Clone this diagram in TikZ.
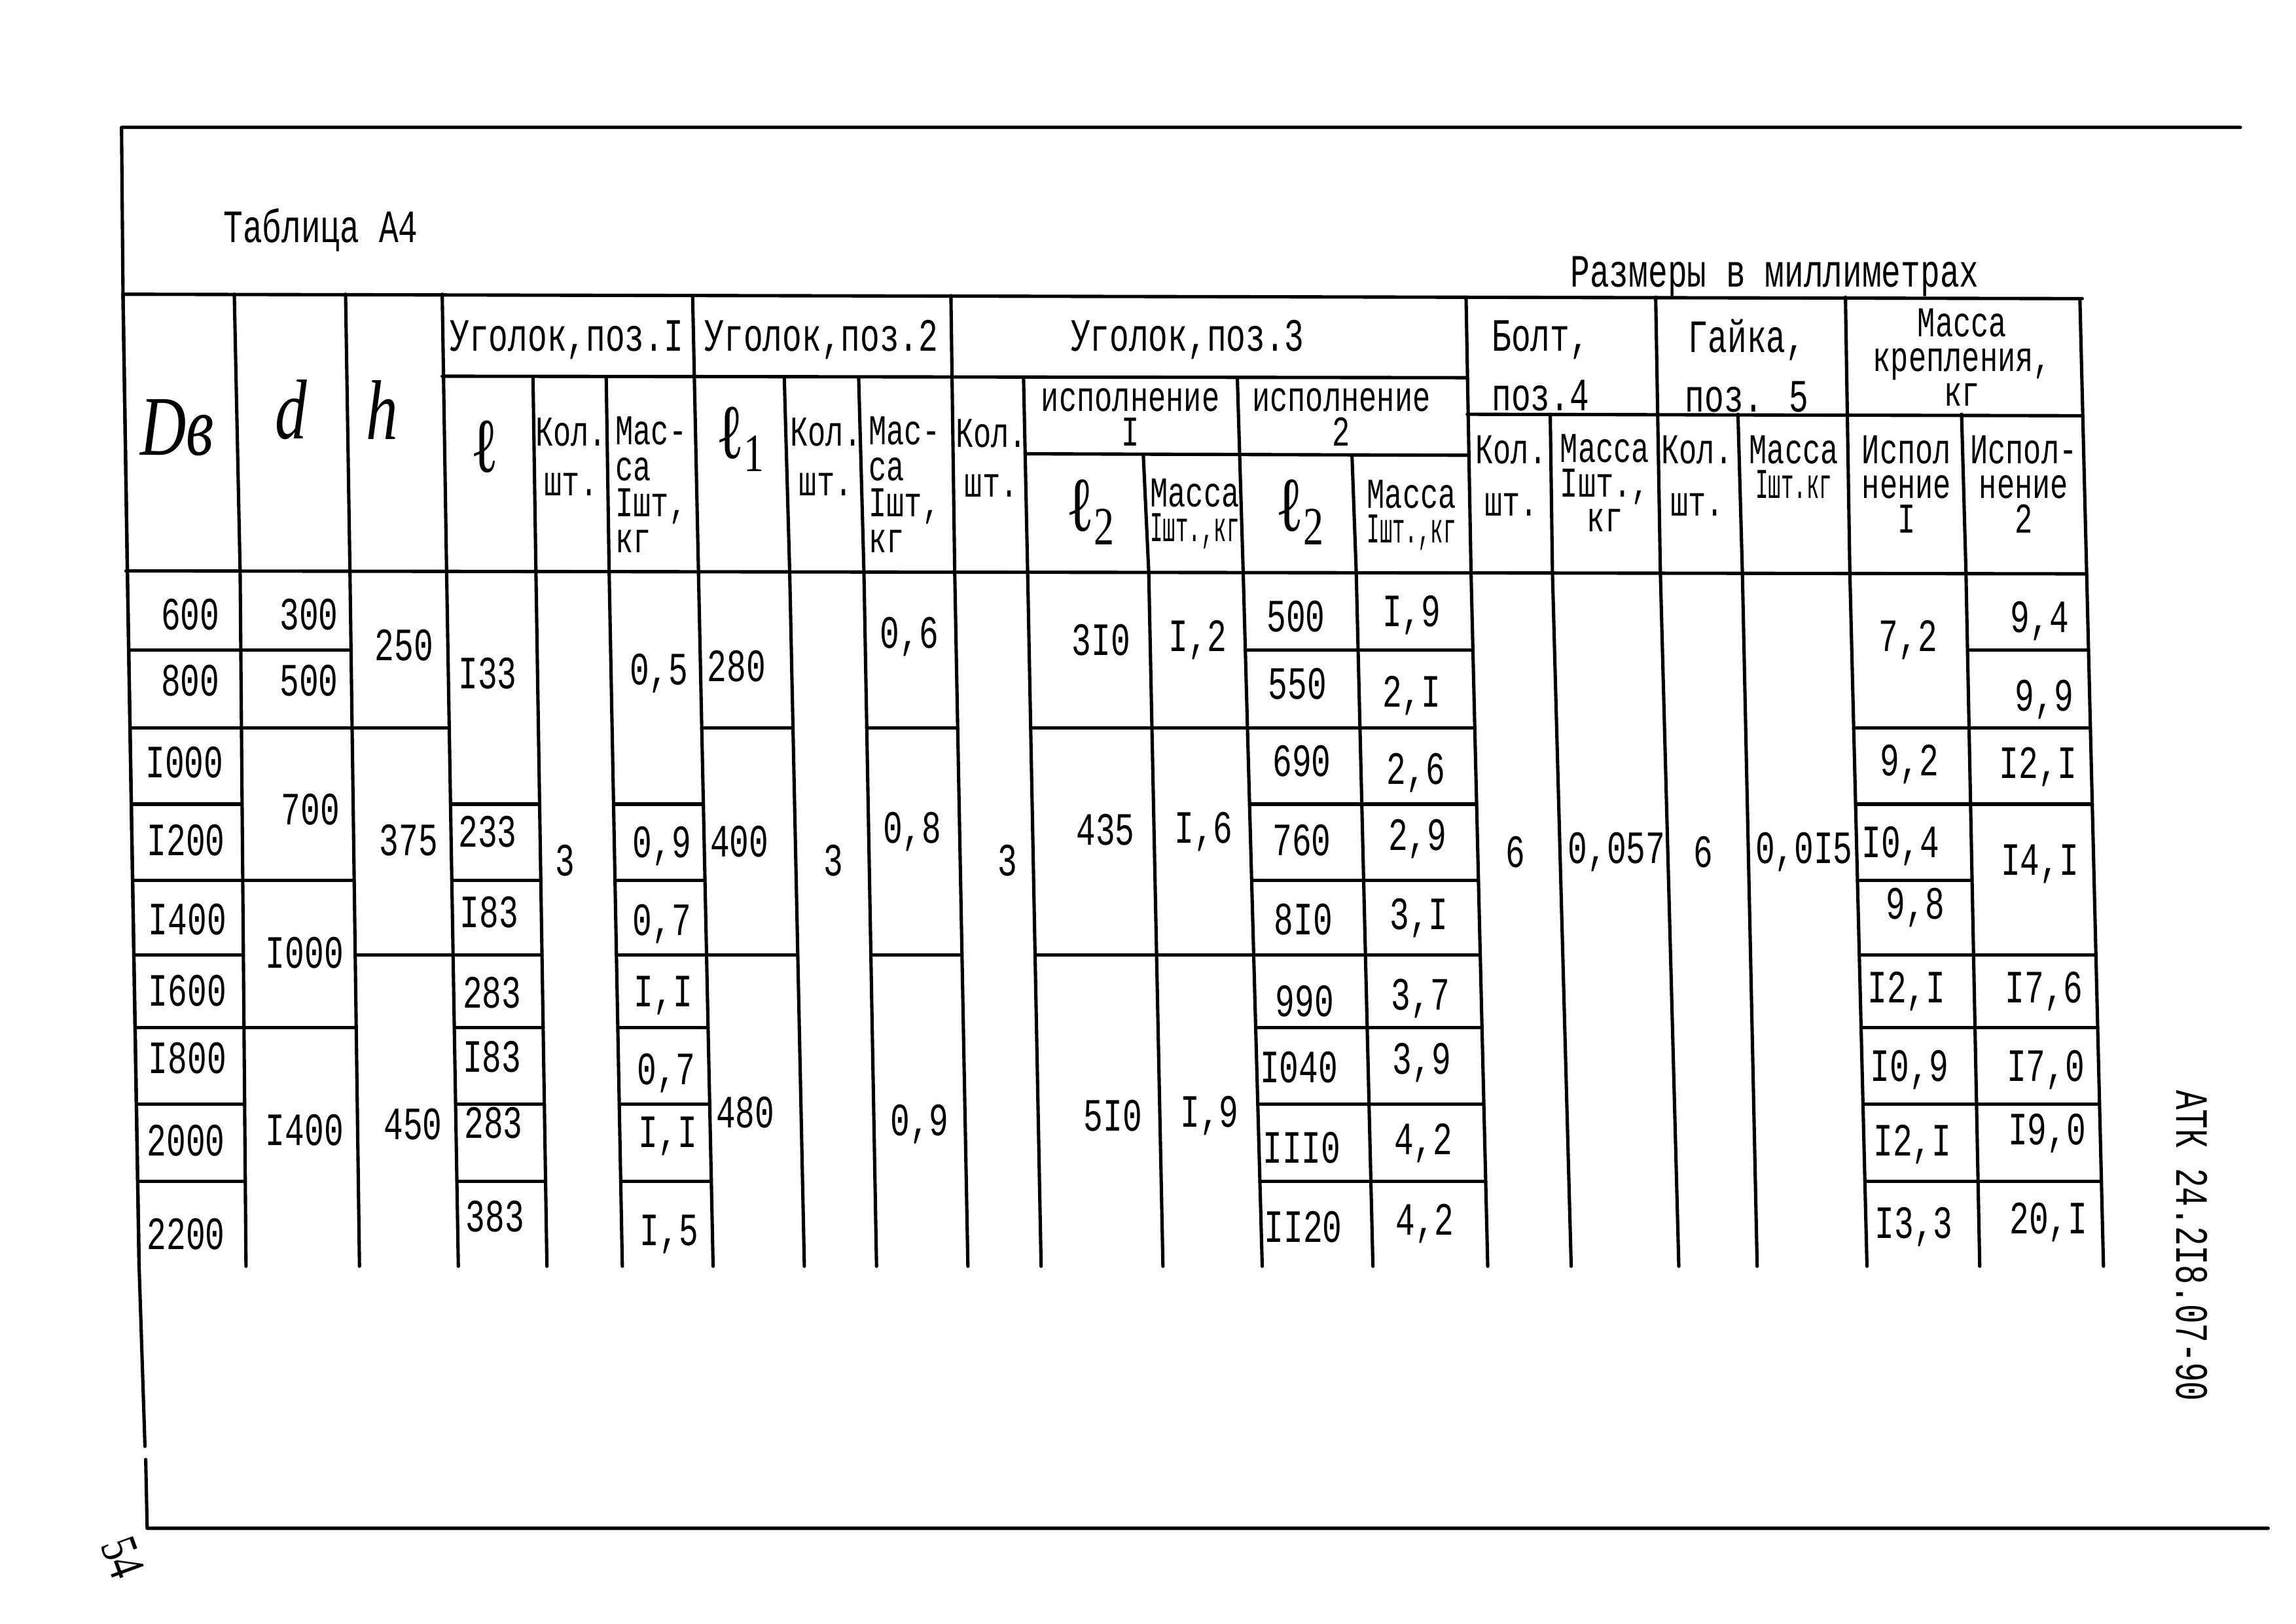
\documentclass[tikz,border=0pt]{standalone}
\usepackage{fontspec}
\setmainfont{Liberation Mono}[FakeStretch=0.7]
\newfontfamily\tightfont{Liberation Mono}[FakeStretch=0.5]
\newfontfamily\handfont{Liberation Serif}[FakeStretch=0.75]
\usetikzlibrary{calc}

\tikzset{
  ruling/.style={line width=1.3pt, line cap=round, line join=round},
  cell/.style={font=\fontsize{18}{12}\selectfont, inner sep=0pt, align=center},
  multi/.style={cell, font=\fontsize{16.5}{13.5}\selectfont},
  sym/.style={font=\handfont\itshape\fontsize{33}{33}\selectfont, inner sep=0pt},
  ell/.style={font=\handfont\fontsize{30}{30}\selectfont, inner sep=0pt},
}

\begin{document}
\begin{tikzpicture}[x=0.02cm, y=-0.02cm]
		\useasboundingbox (0,0) rectangle (1568,1109);

		% page frame
		\draw[ruling] (1530,87) -- (83,87) -- (84,201) -- (87,391) -- (95,865) -- (99,988);
		\draw[ruling] (99.5,997) -- (100.5,1044) -- (1549,1044);

		% header rules
		\draw[ruling]
			(84,201) -- (1422,204)
			(302,257) -- (1002,258)
			(700,310) -- (1002,311)
			(1002,283) -- (1422,284)
			(86,390) -- (1425,392);

		% column rules: name / top x / top y / x at header bottom / x at foot
		\foreach \n/\xa/\ya/\xb/\xc in {a/84/201/87/95, b/160/201/164/168, c/236/201/239/245.5,
				d/302/201/305/313, e/364/258/366/373.5, f/414/258/416/425, g/473/202/477/487,
				h/535.6/258/539.3/549.3, i/586.4/258/590/598.6, j/649.4/202/652/661,
				k/699/258/701.8/711, l/780.8/311/784.5/794.2, m/845/258/849/862,
				n/923.3/311/926.2/937.6, o/1001.2/203/1004.6/1016, p/1058.7/283/1060.2/1073,
				q/1130.7/203/1133.9/1146.5, r/1186.9/283/1189.9/1200, s/1260.3/203/1263.3/1275,
				t/1339.6/283/1342.6/1352, u/1420.4/204/1425/1436.5} {
			\coordinate (v\n-t) at (\xb,391);
			\coordinate (v\n-b) at (\xc,865);
			\draw[ruling] (\xa,\ya) -- (v\n-t) -- (v\n-b);
		}

		% row rules inside the cells
		\foreach \cl/\cr/\rows in {a/b/{1,2,3,4,5,6,7,8}, b/c/{1,2,4,6}, c/d/{2,5},
				d/e/{3,4,5,6,7,8}, f/g/{3,4,5,6,7,8}, g/h/{2,5}, i/j/{2,5}, k/m/{2,5},
				m/o/{1,2,3,4,5,6,7,8}, s/t/{2,3,4,5,6,7,8}, t/u/{1,2,3,5,6,7,8}} {
			\foreach \k in \rows {
				\pgfmathsetmacro\f{{0,.112,.224,.334,.444,.551,.656,.766,.878}[\k]}
				\draw[ruling] ($(v\cl-t)!\f!(v\cl-b)$) -- ($(v\cr-t)!\f!(v\cr-b)$);
			}
		}

		% titles
		\node[cell] (title) at (219,157) {Таблица А4};
		\node[cell] (units) at (1212,189) {Размеры в миллиметрах};
		\node[cell, rotate=-90] (code) at (1497,851) {АТК 24.2I8.07-90};
		\node[font=\handfont\fontsize{20}{20}\selectfont, inner sep=0pt, rotate=-70] (page) at (84,1064) {54};

		% header
		\node[sym] (hdb) at (121,292) {Dв};
		\node[sym] (hd) at (199,280) {d};
		\node[sym] (hh) at (261,280) {h};
		\node[cell] (hua) at (387,232) {Уголок,поз.I};
		\node[cell] (hub) at (561,232) {Уголок,поз.2};
		\node[cell] (huc) at (811,232) {Уголок,поз.3};
		\node[ell] (hla) at (331,305) {ℓ};
		\node[ell] (hlb) at (506,300) {ℓ\textsubscript{1}};
		\node[ell] (hlc) at (745,350) {ℓ\textsubscript{2}};
		\node[ell] (hld) at (888,350) {ℓ\textsubscript{2}};
		\node[multi] (hka) at (390,312) {Кол.\\[6pt]шт.};
		\node[multi, align=left, anchor=west, font=\fontsize{16.5}{14}\selectfont] (hma) at (420,331) {Мас-\\са\\Iшт,\\кг};
		\node[multi] (hkb) at (564,312) {Кол.\\[6pt]шт.};
		\node[multi, align=left, anchor=west, font=\fontsize{16.5}{14}\selectfont] (hmb) at (593,331) {Мас-\\са\\Iшт,\\кг};
		\node[multi] (hkc) at (677,313) {Кол.\\[6pt]шт.};
		\node[multi] (hia) at (772,285) {исполнение\\I};
		\node[multi] (hib) at (916,285) {исполнение\\2};
		\node[multi] (hmc) at (816,351) {Масса\\{\tightfont Iшт.,кг}};
		\node[multi] (hmd) at (964,352) {Масса\\{\tightfont Iшт.,кг}};
		\node[cell] (hbolt) at (1052,250) {Болт,\\[7pt]поз.4};
		\node[cell] (hnut) at (1193,250) {Гайка,\\[7pt]поз. 5};
		\node[multi] (hmass) at (1340,244) {Масса\\крепления,\\кг};
		\node[multi] (hkbolt) at (1032,325) {Кол.\\[7pt]шт.};
		\node[multi] (hmbolt) at (1096,330) {Масса\\Iшт.,\\кг};
		\node[multi] (hknut) at (1159,325) {Кол.\\[7pt]шт.};
		\node[multi] (hmnut) at (1225,319) {Масса\\{\tightfont Iшт.кг}};
		\node[multi] (hia2) at (1302,331) {Испол\\нение\\I};
		\node[multi] (hib2) at (1382,331) {Испол-\\нение\\2};

		% body
		\foreach \x/\y/\t [count=\i] in {130/420/600, 130/465/800, 126/521/I000, 127/574/I200,
				128/628/I400, 128/677/I600, 128/723/I800, 127/779/2000, 127/843/2200}
			\node[cell] (db\i) at (\x,\y) {\t};
		\foreach \x/\y/\t [count=\i] in {211/420/300, 211/465/500, 212/553/700, 208/651/I000, 208/772/I400}
			\node[cell] (dd\i) at (\x,\y) {\t};
		\foreach \x/\y/\t [count=\i] in {276/441/250, 279/574/375, 282/768/450}
			\node[cell] (hh\i) at (\x,\y) {\t};
		\foreach \x/\y/\t [count=\i] in {333/460/I33, 333/568/233, 334/623/I83, 336/678/283,
				336/722/I83, 337/767/283, 338/831/383}
			\node[cell] (la\i) at (\x,\y) {\t};
		\foreach \x/\y/\t [count=\i] in {450/460/{0,5}, 452/578/{0,9}, 452/631/{0,7}, 453/680/{I,I},
				455/733/{0,7}, 456/776/{I,I}, 457/843/{I,5}}
			\node[cell] (ma\i) at (\x,\y) {\t};
		\foreach \x/\y/\t [count=\i] in {503/455/280, 505/575/400, 509/760/480}
			\node[cell] (lb\i) at (\x,\y) {\t};
		\foreach \x/\y/\t [count=\i] in {621/435/{0,6}, 623/568/{0,8}, 628/768/{0,9}}
			\node[cell] (mb\i) at (\x,\y) {\t};
		\foreach \x/\y/\t [count=\i] in {752/437/3I0, 755/567/435, 760/762/5I0}
			\node[cell] (lc\i) at (\x,\y) {\t};
		\foreach \x/\y/\t [count=\i] in {818/437/{I,2}, 822/568/{I,6}, 826/762/{I,9}}
			\node[cell] (mc\i) at (\x,\y) {\t};
		\foreach \x/\y/\t [count=\i] in {885/421/500, 886/467/550, 889/520/690, 889/574/760,
				890/628/8I0, 891/684/990, 887/729/I040, 889/784/III0, 890/838/II20}
			\node[cell] (ld\i) at (\x,\y) {\t};
		\foreach \x/\y/\t [count=\i] in {964/420/{I,9}, 964/475/{2,I}, 967/528/{2,6}, 968/573/{2,9},
				969/627/{3,I}, 970/682/{3,7}, 971/726/{3,9}, 972/781/{4,2}, 973/836/{4,2}}
			\node[cell] (md\i) at (\x,\y) {\t};
		\foreach \x/\y/\t [count=\i] in {1303/437/{7,2}, 1304/522/{9,2}, 1298/578/{I0,4}, 1308/620/{9,8},
				1302/677/{I2,I}, 1304/731/{I0,9}, 1306/782/{I2,I}, 1307/838/{I3,3}}
			\node[cell] (me\i) at (\x,\y) {\t};
		\foreach \x/\y/\t [count=\i] in {1393/424/{9,4}, 1396/478/{9,9}, 1392/524/{I2,I}, 1393/590/{I4,I},
				1396/677/{I7,6}, 1397/731/{I7,0}, 1398/774/{I9,0}, 1399/835/{20,I}}
			\node[cell] (mf\i) at (\x,\y) {\t};

		\node[cell] (ka) at (386,588) {3};
		\node[cell] (kb) at (569,588) {3};
		\node[cell] (kc) at (688,588) {3};
		\node[cell] (kbolt) at (1035,582) {6};
		\node[cell] (mbolt) at (1104,582) {0,057};
		\node[cell] (knut) at (1163,582) {6};
		\node[cell] (mnut) at (1232,582) {0,0I5};
	\end{tikzpicture}
\end{document}
